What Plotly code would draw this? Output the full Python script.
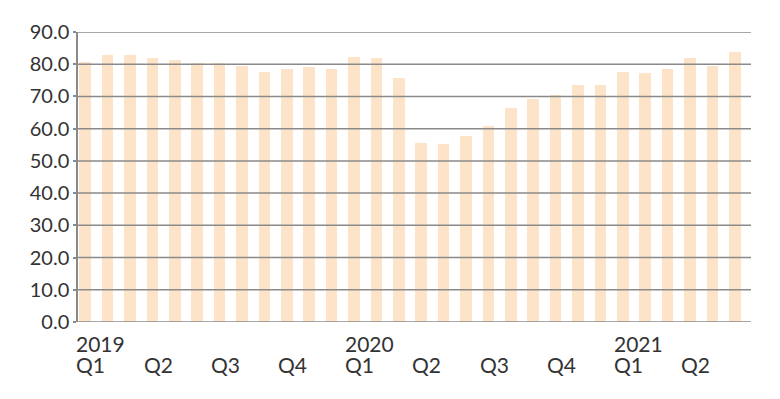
import plotly.graph_objects as go

months = [f"{y}-{m:02d}" for y in (2019, 2020, 2021) for m in range(1, 13)][:30]
values = [80.8, 82.9, 82.9, 81.8, 81.3, 80.3, 80.3, 79.5, 77.7, 78.6, 79.0, 78.6,
          82.3, 81.8, 75.8, 55.7, 55.2, 57.6, 60.8, 66.5, 69.3, 70.6, 73.4, 73.4,
          77.7, 77.2, 78.6, 81.8, 79.5, 83.8]
quarter_labels = ["Q1", "Q2", "Q3", "Q4", "Q1", "Q2", "Q3", "Q4", "Q1", "Q2"]
year_labels = {0: "2019", 4: "2020", 8: "2021"}
y_ticks = [0, 10, 20, 30, 40, 50, 60, 70, 80, 90]

BAR = "#FDE4C8"
GRID = "#8a8a8a"
TXT = "#333333"
FONT = "Lato"

fig = go.Figure(go.Bar(x=list(range(len(months))), y=values, width=0.52,
                       marker=dict(color=BAR, line=dict(width=0)),
                       hoverinfo="skip"))

ann = []
for q, lab in enumerate(quarter_labels):
    xc = 3 * q + 0.19
    ann.append(dict(x=xc, y=0, xref="x", yref="paper", text=lab, showarrow=False,
                    xanchor="left", yanchor="top", xshift=-15, yshift=-28,
                    font=dict(family=FONT, size=21, color=TXT)))
    if q in year_labels:
        ann.append(dict(x=xc, y=0, xref="x", yref="paper", text=year_labels[q],
                        showarrow=False, xanchor="left", yanchor="top",
                        xshift=-15, yshift=-7,
                        font=dict(family=FONT, size=21, color=TXT)))

shapes = [dict(type="line", xref="paper", x0=0, x1=1, yref="y", y0=v, y1=v,
               line=dict(color=GRID, width=1.5), layer="above")
          for v in y_ticks]

fig.update_layout(
    width=772, height=391,
    margin=dict(l=70, r=29, t=24, b=77),
    paper_bgcolor="white", plot_bgcolor="white",
    showlegend=False, bargap=0,
    font=dict(family=FONT, size=20, color=TXT),
    xaxis=dict(range=[-0.32, 29.72], showticklabels=False, showgrid=False,
               zeroline=False, showline=False, ticks="", automargin=False),
    yaxis=dict(range=[0, 90], tickvals=y_ticks,
               ticktext=[f"{v:.1f}" for v in y_ticks],
               showgrid=False, zeroline=False, showline=True, linecolor=GRID,
               linewidth=1.5, layer="above traces", automargin=False,
               ticks="outside", ticklen=3, tickcolor=GRID, tickwidth=1.5,
               tickfont=dict(family=FONT, size=20, color=TXT)),
    annotations=ann,
    shapes=shapes,
)
fig.write_html("out.html")
